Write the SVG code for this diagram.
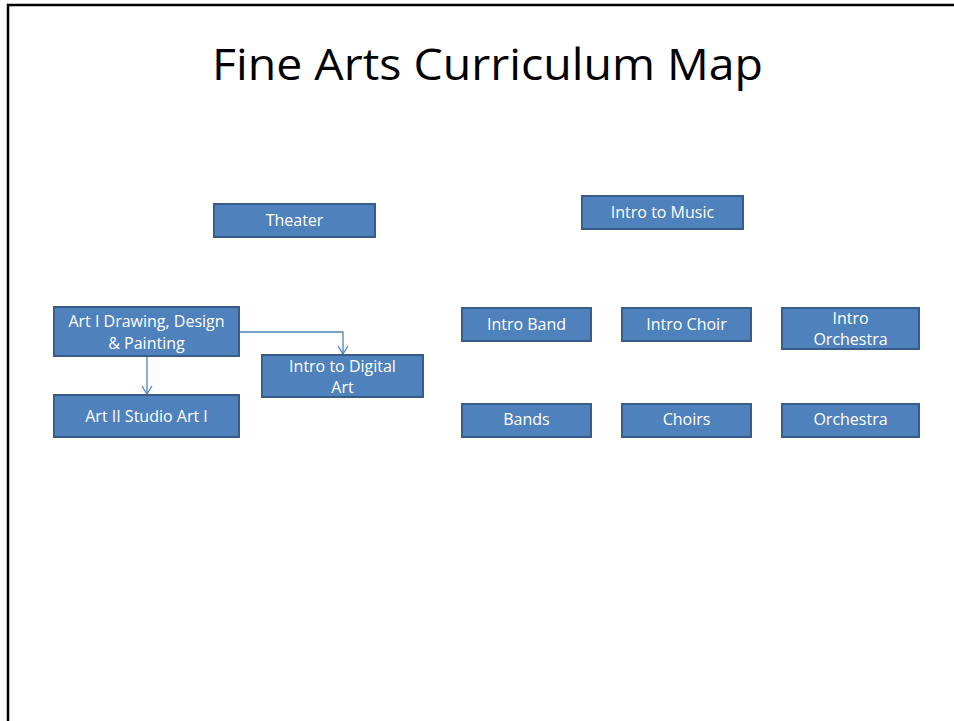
<svg xmlns="http://www.w3.org/2000/svg" width="954" height="721" viewBox="0 0 954 721">
<style>
.box{fill:#4F81BD;stroke:#385D8A;stroke-width:2}
.lbl{font-family:"Open Sans","Liberation Sans",sans-serif;font-size:16px;fill:#FFFFFF;text-anchor:middle}
.title{font-family:"Open Sans","Liberation Sans",sans-serif;font-size:44px;fill:#000000}
.conn{fill:none;stroke:#4F81BD;stroke-width:1.3}
</style>
<defs>
<marker id="arr" viewBox="0 0 10 12" refX="9" refY="6" markerWidth="10" markerHeight="12" markerUnits="userSpaceOnUse" orient="auto">
<path d="M1,1 L9,6 L1,11" fill="none" stroke="#4F81BD" stroke-width="1.3"/>
</marker>
</defs>
<rect width="954" height="721" fill="#FFFFFF"/>
<path d="M8,721 V5 H954" fill="none" stroke="#000000" stroke-width="2.5"/>
<text class="title" x="212" y="80" textLength="551" lengthAdjust="spacingAndGlyphs">Fine Arts Curriculum Map</text>
<g id="connectors">
<path class="conn" d="M147,356 V394" marker-end="url(#arr)"/>
<path class="conn" d="M239,332 H343 V354" marker-end="url(#arr)"/>
</g>
<g id="theater"><rect class="box" x="214" y="204" width="161" height="33"/><text class="lbl" x="294.5" y="226">Theater</text></g>
<g id="intro-music"><rect class="box" x="582" y="196" width="161" height="33"/><text class="lbl" x="662.5" y="218">Intro to Music</text></g>
<g id="art1"><rect class="box" x="54" y="307" width="185" height="49"/><text class="lbl" x="146.5" y="327">Art I Drawing, Design</text><text class="lbl" x="146.5" y="349">&amp; Painting</text></g>
<g id="digital"><rect class="box" x="262" y="355" width="161" height="42"/><text class="lbl" x="342.5" y="372">Intro to Digital</text><text class="lbl" x="342.5" y="393">Art</text></g>
<g id="art2"><rect class="box" x="54" y="395" width="185" height="42"/><text class="lbl" x="146.5" y="422">Art II Studio Art I</text></g>
<g id="intro-band"><rect class="box" x="462" y="308" width="129" height="33"/><text class="lbl" x="526.5" y="330">Intro Band</text></g>
<g id="intro-choir"><rect class="box" x="622" y="308" width="129" height="33"/><text class="lbl" x="686.5" y="330">Intro Choir</text></g>
<g id="intro-orchestra"><rect class="box" x="782" y="308" width="137" height="41"/><text class="lbl" x="850.5" y="324">Intro</text><text class="lbl" x="850.5" y="345">Orchestra</text></g>
<g id="bands"><rect class="box" x="462" y="404" width="129" height="33"/><text class="lbl" x="526.5" y="425">Bands</text></g>
<g id="choirs"><rect class="box" x="622" y="404" width="129" height="33"/><text class="lbl" x="686.5" y="425">Choirs</text></g>
<g id="orchestra"><rect class="box" x="782" y="404" width="137" height="33"/><text class="lbl" x="850.5" y="425">Orchestra</text></g>
</svg>
